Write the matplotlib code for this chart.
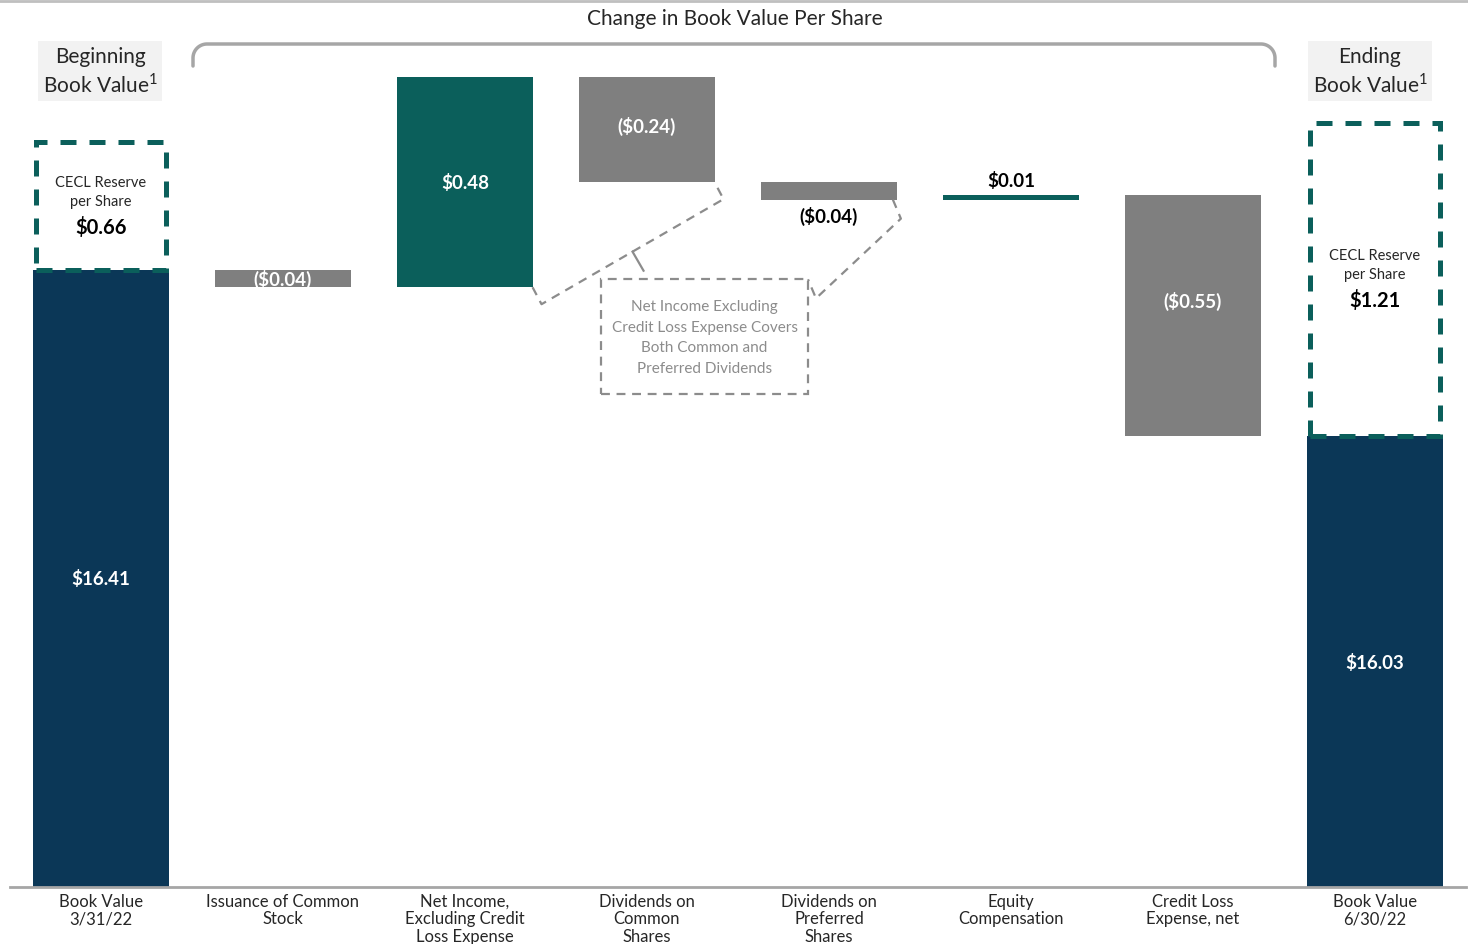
import numpy as np
import matplotlib
matplotlib.use("Agg")
import matplotlib.pyplot as plt
from matplotlib.patches import Rectangle
from matplotlib.lines import Line2D
from matplotlib.transforms import IdentityTransform

plt.rcParams['font.family'] = ['Lato', 'DejaVu Sans']
plt.rcParams['mathtext.fontset'] = 'custom'
plt.rcParams['mathtext.rm'] = 'Lato'

# ---- data ----
categories = ["Book Value\n3/31/22", "Issuance of Common\nStock",
              "Net Income,\nExcluding Credit\nLoss Expense", "Dividends on\nCommon\nShares",
              "Dividends on\nPreferred\nShares", "Equity\nCompensation",
              "Credit Loss\nExpense, net", "Book Value\n6/30/22"]
begin_value = 16.41
changes = [-0.04, 0.48, -0.24, -0.04, 0.01, -0.55]
end_value = 16.03
change_labels = ["($0.04)", "$0.48", "($0.24)", "($0.04)", "$0.01", "($0.55)"]
cecl_begin = "$0.66"
cecl_end = "$1.21"

NAVY = "#0B3757"
TEAL = "#0B5F5B"
GRAY = "#7F7F7F"
DASH_GRAY = "#8C8C8C"
TEXT = "#262626"

W, H, DPI = 1468, 945, 100
fig = plt.figure(figsize=(W / DPI, H / DPI), dpi=DPI)
ax = fig.add_axes([10 / W, 57 / H, 1456 / W, 888 / H])
y0 = 15.0
ax.set_xlim(-0.5, 7.5)
ax.set_ylim(y0, y0 + 888 / 437.8)

bw = 0.742
x = np.arange(len(categories))

# totals
ax.bar(x[0], begin_value - y0, bottom=y0, width=bw, color=NAVY, zorder=2)
ax.bar(x[-1], end_value - y0, bottom=y0, width=bw, color=NAVY, zorder=2)
ax.text(x[0], (begin_value + y0) / 2, f"${begin_value:.2f}", color="white",
        fontsize=13.5, fontweight="bold", ha="center", va="center")
ax.text(x[-1], (end_value + y0) / 2, f"${end_value:.2f}", color="white",
        fontsize=13.5, fontweight="bold", ha="center", va="center")

# floating change bars
level = begin_value
bar_boxes = []
for i, d in enumerate(changes):
    xi = x[i + 1]
    lo, hi = min(level, level + d), max(level, level + d)
    col = TEAL if d > 0 else GRAY
    ax.bar(xi, hi - lo, bottom=lo, width=bw, color=col, zorder=2)
    bar_boxes.append((xi, lo, hi))
    level += d

lab = dict(fontsize=13.5, fontweight="bold", ha="center", va="center", zorder=3)
# value labels
xi, lo, hi = bar_boxes[0]
ax.text(xi, (lo + hi) / 2, change_labels[0], color="white", **lab)
xi, lo, hi = bar_boxes[1]
ax.text(xi, (lo + hi) / 2, change_labels[1], color="white", **lab)
xi, lo, hi = bar_boxes[2]
ax.text(xi, hi - 0.11, change_labels[2], color="white", **lab)
xi, lo, hi = bar_boxes[3]
ax.text(xi, lo - 0.037, change_labels[3], color="black", **lab)
xi, lo, hi = bar_boxes[4]
ax.text(xi, hi + 0.035, change_labels[4], color="black", **lab)
xi, lo, hi = bar_boxes[5]
ax.text(xi, lo + 0.31, change_labels[5], color="white", **lab)

# CECL reserve boxes
def cecl_box(xc, bottom, top, label_y, value):
    r = Rectangle((xc - bw / 2 + 0.012, bottom), bw - 0.024, top - bottom, fill=False,
                  edgecolor=TEAL, linewidth=3.6, linestyle=(0, (3.2, 2.6)), zorder=4)
    ax.add_patch(r)
    ax.text(xc, label_y, "CECL Reserve\nper Share", ha="center", va="center",
            fontsize=10.5, color=TEXT, linespacing=1.45)
    ax.text(xc, label_y - 0.080, value, ha="center", va="center", fontsize=14.5,
            fontweight="bold", color="black")

cecl_box(x[0], begin_value, 16.702, 16.588, cecl_begin)
cecl_box(x[-1], end_value, 16.745, 16.422, cecl_end)

# axis styling
for s in ("top", "right", "left"):
    ax.spines[s].set_visible(False)
ax.spines["bottom"].set_color("#A6A6A6")
ax.spines["bottom"].set_linewidth(2)
ax.set_yticks([])
ax.set_xticks(x)
ax.set_xticklabels(categories, fontsize=12, color=TEXT, linespacing=1.12, va="top")
ax.tick_params(axis="x", length=0, pad=4)

# header boxes
hdr = dict(ha="center", va="center", fontsize=15, color=TEXT, linespacing=1.3,
           bbox=dict(boxstyle="square,pad=0.22", facecolor="#F2F2F2", edgecolor="none"))
fig.text(100 / W, 1 - 72 / H, "Beginning\nBook Value$^{1}$", **hdr)
fig.text(1370 / W, 1 - 72 / H, "Ending\nBook Value$^{1}$", **hdr)
fig.text(735 / W, 1 - 19 / H, "Change in Book Value Per Share", ha="center", va="center",
         fontsize=15, color=TEXT)

# top rule
fig.add_artist(Line2D([0, 1], [1 - 2 / H, 1 - 2 / H], transform=fig.transFigure,
                      color="#BFBFBF", linewidth=2))

# curly bracket over the change columns (pixel space)
def px(xp, yp):
    return (np.asarray(xp) / W, 1 - np.asarray(yp) / H)

r = 14
th = np.linspace(np.pi, np.pi / 2, 20)
lx = list(193 + r + r * np.cos(th)); ly = list(45 + r - r * np.sin(th))
th2 = np.linspace(np.pi / 2, 0, 20)
rx = list(1275 - r + r * np.cos(th2)); ry = list(45 + r - r * np.sin(th2))
bx = [193] + lx + rx + [1275]
by = [67] + ly + ry + [67]
fx, fy = px(bx, by)
fig.add_artist(Line2D(fx, fy, transform=fig.transFigure, color="#A6A6A6", linewidth=2.5,
                      solid_capstyle="round"))

# callout box
box_l, box_r = (601 - 101) / 182, (808 - 101) / 182
box_t, box_b = 16.388, 16.125
ax.add_patch(Rectangle((box_l, box_b), box_r - box_l, box_t - box_b, fill=False,
                       edgecolor=DASH_GRAY, linewidth=1.6, linestyle=(0, (4, 3)), zorder=3))
ax.text((box_l + box_r) / 2, (box_t + box_b) / 2,
        "Net Income Excluding\nCredit Loss Expense Covers\nBoth Common and\nPreferred Dividends",
        ha="center", va="center", fontsize=11, color=DASH_GRAY, linespacing=1.6)

# dashed brackets linking bars to the callout
fig.canvas.draw()
tD = ax.transData

def to_px(xd, yd):
    return np.array(tD.transform((xd, yd)))

def bracket(p, q, off, tick=None):
    pts = np.array([p, p + off, q + off, q])
    ax.add_line(Line2D(pts[:, 0], pts[:, 1], transform=IdentityTransform(), color=DASH_GRAY,
                       linewidth=1.6, linestyle=(0, (4, 3)), zorder=3))
    if tick is not None:
        m = (p + q) / 2 + off
        t = np.array([m, m + tick])
        ax.add_line(Line2D(t[:, 0], t[:, 1], transform=IdentityTransform(), color=DASH_GRAY,
                           linewidth=1.6, zorder=3))

xi, lo, hi = bar_boxes[1]
p1 = to_px(xi + bw / 2, lo)
xi, lo, hi = bar_boxes[2]
q1 = to_px(xi + bw / 2, lo)
bracket(p1, q1, np.array([9, -17]), tick=np.array([11, -19]))

xi, lo, hi = bar_boxes[3]
p2 = to_px(xi + bw / 2 - 0.02, lo)
q2 = to_px(box_r, box_t)
bracket(p2, q2, np.array([8, -19]))

fig.savefig("out.png", dpi=DPI)
